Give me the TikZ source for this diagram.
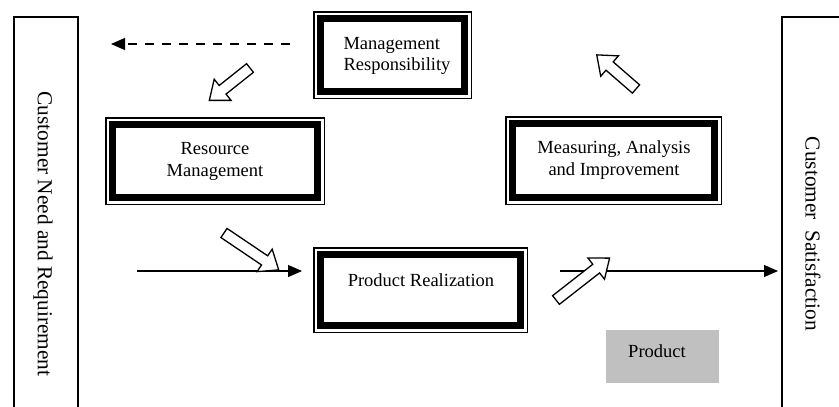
\documentclass[tikz,border=0pt]{standalone}
\usepackage{fontspec}
\setmainfont{Liberation Serif}
\usetikzlibrary{arrows.meta}

\tikzset{
  txt/.style={font=\fontsize{18.5}{21.5}\selectfont, inner sep=0pt},
  framebox/.style={draw, line width=1.5pt, inner sep=0pt, outer sep=0pt},
  sidebox/.style={draw, line width=2.5pt, inner sep=0pt, outer sep=0pt},
  sidetext/.style={rotate=-90, font=\fontsize{21.3}{25}\selectfont, inner sep=0pt},
  flow/.style={line width=1.2pt, -{Triangle[length=14pt,width=12pt]}},
  dashflow/.style={line width=1.2pt, dash pattern=on 9pt off 8pt,
    -{Triangle[length=14pt,width=12pt]}},
  hollow/.style={draw, line width=1.3pt, fill=white, line join=miter},
  productbox/.style={fill={rgb,255:red,192;green,192;blue,192}, inner sep=0pt,
    minimum width=113pt, minimum height=53pt},
}

% hollow block arrow: tail at #1, direction #2 (degrees), length #3
\newcommand{\blockarrow}[3]{%
  \draw[hollow, shift={#1}, rotate=#2]
    (0,-5.5) -- ({#3-17},-5.5) -- ({#3-17},-13.5) -- (#3,0)
    -- ({#3-17},13.5) -- ({#3-17},5.5) -- (0,5.5) -- cycle;}

\begin{document}
\begin{tikzpicture}[x=1pt, y=-1pt]
  \useasboundingbox (0,0) rectangle (839,407);
  \clip (0,0) rectangle (839,407);

  % side panels, open at the bottom
  \node[sidebox, minimum width=64pt, minimum height=440pt, anchor=north] (need) at (46,17) {};
  \node[sidetext] (needtext) at (43,234) {Customer Need and Requirement};
  \node[sidebox, minimum width=90pt, minimum height=440pt, anchor=north west] (sat) at (782,17) {};
  \node[sidetext] (sattext) at (813,234) {Customer\ \ Satisfaction};

  % process boxes
  \node[framebox, minimum width=157.5pt, minimum height=86.5pt] (mgmt) at (392.5,55) {};
  \node[txt, align=left] (mgmttext) at (397,56) {Management\\Responsibility};
  \node[framebox, minimum width=218.5pt, minimum height=86.5pt] (res) at (215,161) {};
  \node[txt, align=center] (restext) at (215,161.5) {Resource\\Management};
  \node[framebox, minimum width=215.5pt, minimum height=87.5pt] (meas) at (613.5,160.5) {};
  \node[txt, align=center] (meastext) at (614,160) {Measuring, Analysis\\and Improvement};
  \node[framebox, minimum width=213.5pt, minimum height=84.5pt] (prod) at (420.5,290) {};
  \node[txt] (prodtext) at (421,280) {Product Realization};

  % thick inner frames
  \foreach \b in {mgmt,res,meas,prod}
    \draw[line width=7.5pt]
      ([xshift=6.75pt,yshift=-6.75pt]\b.north west) rectangle
      ([xshift=-6.75pt,yshift=6.75pt]\b.south east);

  % product tag
  \node[productbox] (product) at (662.5,356.5) {};
  \node[txt] (producttext) at (657,351) {Product};

  % flows
  \coordinate (dashstart) at (290,44);
  \coordinate (dashend) at (111,44);
  \draw[dashflow] (dashstart) -- (dashend);
  \coordinate (inflow) at (137,271);
  \coordinate (inflowend) at (302,271);
  \draw[flow] (inflow) -- (inflowend);
  \coordinate (outflow) at (560,271);
  \coordinate (outflowend) at (778,271);
  \draw[flow] (outflow) -- (outflowend);

  % cycle arrows
  \blockarrow{(250,68)}{218.5}{52}
  \blockarrow{(224,233)}{-34}{66}
  \blockarrow{(556,300)}{38}{68}
  \blockarrow{(636,89)}{139}{52}
\end{tikzpicture}
\end{document}
